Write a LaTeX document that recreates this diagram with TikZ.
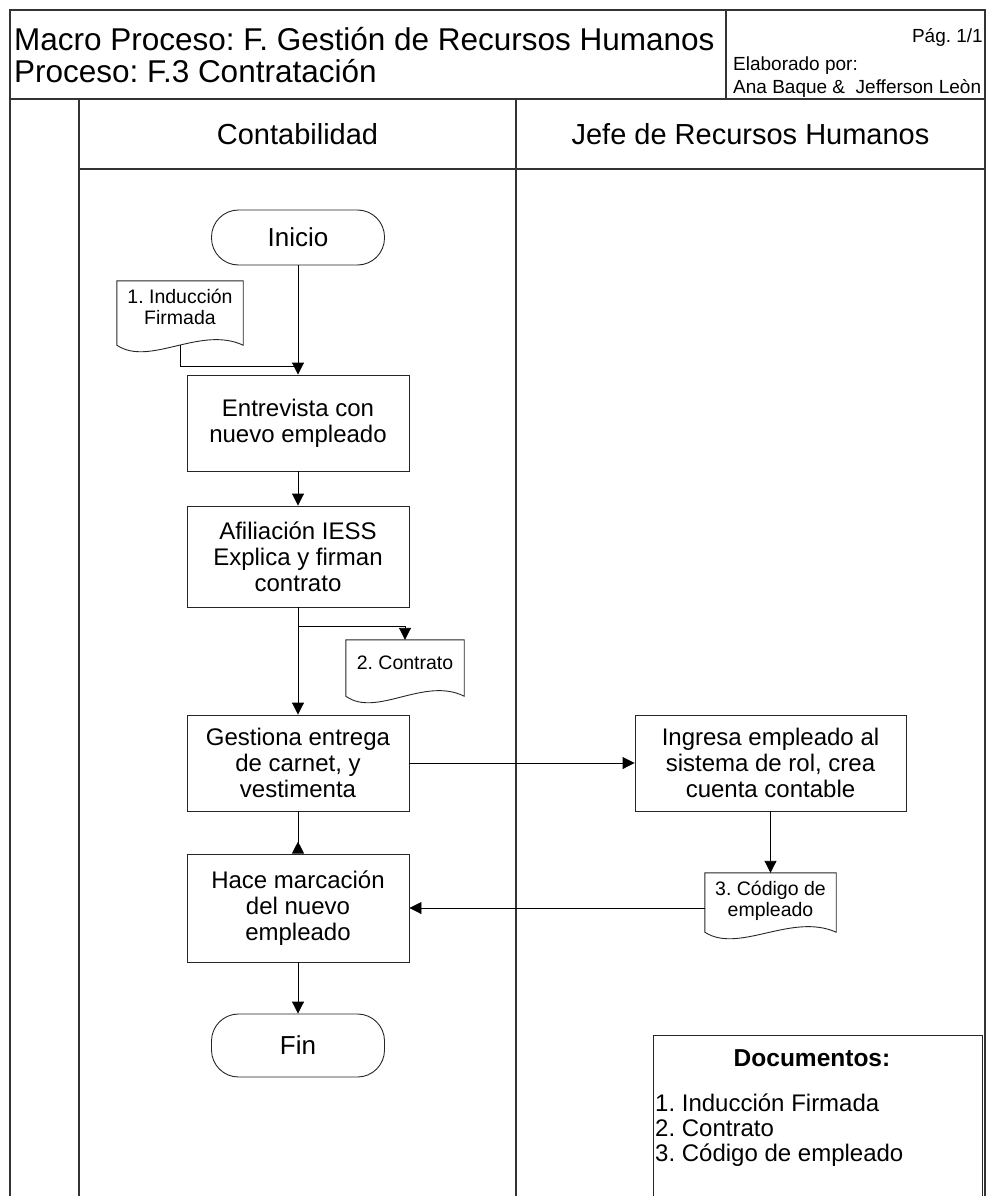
\documentclass[tikz,border=0pt]{standalone}
\usepackage{fontspec}
\setmainfont{Liberation Sans}
\usetikzlibrary{arrows.meta,calc}
\frenchspacing
\newcommand\docoutline[3]{%
  \draw[docline] (#1.north west) -- (#1.north east) -- ([yshift=-#3pt]#1.south east)
    .. controls +({-0.34*#2},-20) and +({0.26*#2},22) .. ([yshift=-#3pt]#1.south west) -- cycle;}
\begin{document}
\frenchspacing
\begin{tikzpicture}[x=1pt,y=-1pt,
  frame/.style={draw=black!80, line width=1.6pt},
  proc/.style={draw=black!85, line width=0.9pt, minimum width=222pt, align=center,
    font=\fontsize{24}{26}\selectfont, inner sep=0pt},
  term/.style={draw=black!85, line width=0.9pt, minimum width=173pt, rounded corners=27pt,
    font=\fontsize{26}{28}\selectfont, inner sep=0pt},
  doc/.style={align=center, font=\fontsize{19.5}{21}\selectfont, inner sep=0pt},
  docline/.style={draw=black!85, line width=0.9pt},
  conn/.style={draw=black, line width=0.9pt},
  arr/.style={conn, -{Triangle[length=12pt,width=12pt]}},
  txt/.style={inner sep=0pt},
]
\useasboundingbox (0,0) rectangle (989,1196);
% frame
\draw[frame] (10,1196) -- (10,10) -- (985,10) -- (985,1196);
\draw[frame] (10,99) -- (985,99);
\draw[frame] (726,10) -- (726,99);
\draw[frame] (79,99) -- (79,1196);
\draw[frame] (516,99) -- (516,1196);
\draw[frame] (79,169) -- (985,169);
% header texts
\node[txt, anchor=base west, font=\fontsize{31.5}{32}\selectfont] (t1) at (14,51) {Macro Proceso: F. Gestión de Recursos Humanos};
\node[txt, anchor=base west, font=\fontsize{31.5}{32}\selectfont] (t2) at (14,83) {Proceso: F.3 Contratación};
\node[txt, anchor=base east, font=\fontsize{19}{20}\selectfont] (pg) at (983,43) {Pág. 1/1};
\node[txt, anchor=base west, font=\fontsize{19}{20}\selectfont] (el) at (733,71) {Elaborado por:};
\node[txt, anchor=base west, font=\fontsize{19}{20}\selectfont] (au) at (733,94) {Ana Baque \&\ \ Jefferson Leòn};
% lane headers
\node[font=\fontsize{29}{30}\selectfont] (lc) at (297.5,134) {Contabilidad};
\node[font=\fontsize{29}{30}\selectfont] (lj) at (750.5,134) {Jefe de Recursos Humanos};
% nodes
\node[term, minimum height=55pt] (ini) at (298,237.5) {Inicio};
\node[proc, minimum height=96pt] (ent) at (298,423) {Entrevista con\\nuevo empleado};
\node[proc, minimum height=101pt] (afi) at (298,556.5) {Afiliación IESS\\Explica y firman\\contrato};
\node[proc, minimum height=96pt] (ges) at (298,763) {Gestiona entrega\\de carnet, y\\vestimenta};
\node[proc, minimum height=108pt] (hac) at (298,908) {Hace marcación\\del nuevo\\empleado};
\node[term, minimum height=63pt] (fin) at (298,1045.5) {Fin};
\node[proc, minimum width=271pt, minimum height=96pt] (ing) at (770.5,763) {Ingresa empleado al\\sistema de rol, crea\\cuenta contable};
% documents
\node[doc, minimum width=126pt, minimum height=52pt] (d1) at (180,307) {1. Inducción\\Firmada};
\node[doc, minimum width=118pt, minimum height=46pt] (d2) at (405,663) {2. Contrato};
\node[doc, minimum width=131pt, minimum height=56pt] (d3) at (770.5,901) {3. Código de\\empleado};
\docoutline{d1}{126}{12}
\docoutline{d2}{118}{10}
\docoutline{d3}{131}{3}
% connectors
\coordinate (j1) at ($(ent.north)+(0,-8)$);
\coordinate (j2) at ($(afi.south)+(0,19)$);
\draw[arr] (ini) -- (ent);
\draw[conn] ([yshift=-12pt]d1.south) |- (j1);
\draw[arr] (ent) -- (afi);
\draw[arr] (afi) -- (ges);
\draw[arr] (j2) -| (d2.north);
\draw[arr] (ges) -- (ing);
\draw[arr] (ing) -- (d3);
\draw[arr] (d3.west |- hac.east) -- (hac.east);
\draw[conn, -{Triangle[length=12pt,width=12pt,reversed]}] (ges) -- (hac);
\draw[arr] (hac) -- (fin);
% documents legend
\draw[docline] (653,1196) -- (653,1035) -- (982,1035) -- (982,1196);
\node[txt, anchor=base, font=\bfseries\fontsize{24.5}{26}\selectfont] (dt) at (812,1066) {Documentos:};
\node[txt, anchor=base west, font=\fontsize{24}{25}\selectfont] (l1) at (655,1111) {1. Inducción Firmada};
\node[txt, anchor=base west, font=\fontsize{24}{25}\selectfont] (l2) at (655,1136) {2. Contrato};
\node[txt, anchor=base west, font=\fontsize{24}{25}\selectfont] (l3) at (655,1161) {3. Código de empleado};
\end{tikzpicture}
\end{document}
